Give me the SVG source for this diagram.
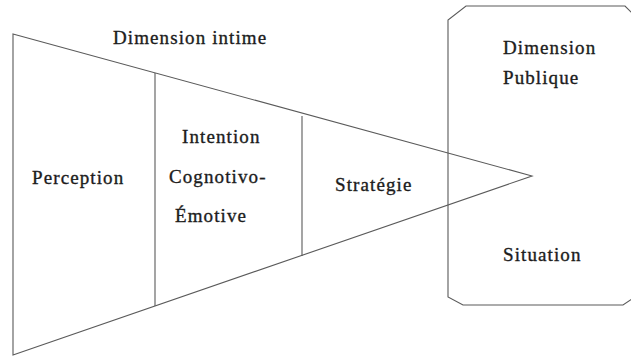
<svg xmlns="http://www.w3.org/2000/svg" width="631" height="356" viewBox="0 0 631 356">
<style>
.ln{fill:none;stroke:#5a5a5a;stroke-width:1.1}
.t{font-family:"Liberation Serif","Times New Roman",serif;font-size:19px;fill:#1c1c1c;stroke:#1c1c1c;stroke-width:0.35;letter-spacing:1.1px}
</style>
<rect width="631" height="356" fill="#ffffff"/>
<g id="public-box">
<path class="ln" d="M632,13 L625,6 L466,6 L448,20 L448,297 L463,305 L623,305 L632,299"/>
<text class="t" x="503" y="54">Dimension</text>
<text class="t" x="503" y="84">Publique</text>
<text class="t" x="503" y="261">Situation</text>
</g>
<g id="intimate-triangle">
<path class="ln" d="M13,34 L532,176 L13,355 Z"/>
<text class="t" x="113" y="44">Dimension intime</text>
</g>
<g id="connectors">
<line class="ln" x1="155" y1="73" x2="155" y2="306"/>
<line class="ln" x1="302" y1="116" x2="302" y2="256"/>
</g>
<g id="perception">
<text class="t" x="32" y="184">Perception</text>
</g>
<g id="intention">
<text class="t" x="182" y="143">Intention</text>
<text class="t" x="169" y="183">Cognotivo-</text>
<text class="t" x="175" y="222">Émotive</text>
</g>
<g id="strategie">
<text class="t" x="335" y="191">Stratégie</text>
</g>
</svg>
